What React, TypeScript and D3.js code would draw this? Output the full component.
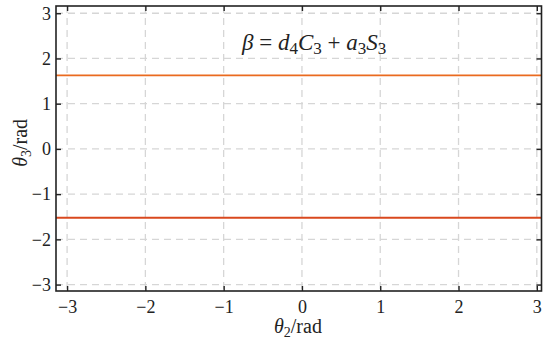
import React, { useEffect, useRef } from "react";
import * as d3 from "d3";

// theta_2 range (rad) and tick values
const xDomain: [number, number] = [-3.1416, 3.06];
const yDomain: [number, number] = [-3.1416, 3.16];
const xTicks = [-3, -2, -1, 0, 1, 2, 3];
const yTicks = [-3, -2, -1, 0, 1, 2, 3];

// the two solution branches of theta_3 (constant along theta_2)
const branchValues = [1.626, -1.522];
const branchColors = ["#EA6A1F", "#D9481E"];
const sampleX = [-3.1416, 3.06];

const WIDTH = 550;
const HEIGHT = 344;
const FONT = "'Liberation Serif', 'DejaVu Serif', serif";

const fmt = (v: number) => (v < 0 ? "\u2212" + Math.abs(v) : String(v));

const App: React.FC = () => {
  const svgRef = useRef<SVGSVGElement>(null);

  useEffect(() => {
    if (!svgRef.current) return;
    const svg = d3.select(svgRef.current);
    svg.selectAll("*").remove();

    const margin = { top: 6, right: 8.5, bottom: 53, left: 56 };
    const innerWidth = WIDTH - margin.left - margin.right;
    const innerHeight = HEIGHT - margin.top - margin.bottom;

    const g = svg.append("g")
      .attr("transform", `translate(${margin.left}, ${margin.top})`);

    const x = d3.scaleLinear().domain(xDomain).range([0, innerWidth]);
    const y = d3.scaleLinear().domain(yDomain).range([innerHeight, 0]);

    // grid
    g.append("g")
      .selectAll("line")
      .data(xTicks)
      .join("line")
      .attr("x1", d => x(d)).attr("x2", d => x(d))
      .attr("y1", 0).attr("y2", innerHeight)
      .attr("stroke", "#d6d6d6")
      .attr("stroke-width", 1.3)
      .attr("stroke-dasharray", "7,5");

    g.append("g")
      .selectAll("line")
      .data(yTicks)
      .join("line")
      .attr("y1", d => y(d)).attr("y2", d => y(d))
      .attr("x1", 0).attr("x2", innerWidth)
      .attr("stroke", "#d6d6d6")
      .attr("stroke-width", 1.3)
      .attr("stroke-dasharray", "7,5");

    // lines
    const line = d3.line<number>().x(d => x(d));
    branchValues.forEach((v, i) => {
      g.append("path")
        .datum(sampleX)
        .attr("fill", "none")
        .attr("stroke", branchColors[i])
        .attr("stroke-width", 1.8)
        .attr("d", line.y(() => y(v)));
    });

    // axes (ticks inward, mirrored on top and right)
    const tickLen = 5;
    const axisStyle = (sel: d3.Selection<SVGGElement, unknown, null, undefined>) => {
      sel.select(".domain").remove();
      sel.selectAll("line").attr("stroke", "#222").attr("stroke-width", 1.4);
      sel.selectAll("text")
        .attr("font-family", FONT)
        .attr("font-size", 18)
        .attr("fill", "#222");
    };

    g.append("g")
      .attr("transform", `translate(0, ${innerHeight})`)
      .call(d3.axisBottom(x).tickValues(xTicks).tickSize(-tickLen).tickPadding(9).tickFormat(d => fmt(+d)))
      .call(axisStyle);

    g.append("g")
      .call(d3.axisTop(x).tickValues(xTicks).tickSize(-tickLen).tickFormat(() => ""))
      .call(axisStyle);

    g.append("g")
      .call(d3.axisLeft(y).tickValues(yTicks).tickSize(-tickLen).tickPadding(5).tickFormat(d => fmt(+d)))
      .call(axisStyle);

    g.append("g")
      .attr("transform", `translate(${innerWidth}, 0)`)
      .call(d3.axisRight(y).tickValues(yTicks).tickSize(-tickLen).tickFormat(() => ""))
      .call(axisStyle);

    // frame
    g.append("rect")
      .attr("width", innerWidth)
      .attr("height", innerHeight)
      .attr("fill", "none")
      .attr("stroke", "#222")
      .attr("stroke-width", 1.6);

    // annotation
    const ann = g.append("text")
      .attr("x", 186)
      .attr("y", 44)
      .attr("font-family", FONT)
      .attr("font-size", 23)
      .attr("fill", "#222")
      .style("white-space", "pre");
    const parts: Array<[string, boolean, boolean]> = [
      ["\u03B2", true, false], [" = ", false, false], ["d", true, false], ["4", false, true],
      ["C", true, false], ["3", false, true], [" + ", false, false], ["a", true, false], ["3", false, true],
      ["S", true, false], ["3", false, true],
    ];
    let sub = false;
    parts.forEach(([t, it, s]) => {
      const ts = ann.append("tspan").text(t)
        .attr("font-style", it ? "italic" : "normal");
      if (s) ts.attr("font-size", 17).attr("dy", sub ? 0 : 4);
      else ts.attr("dy", sub ? -4 : 0);
      sub = s;
    });

    // axis labels
    const xl = svg.append("text")
      .attr("x", margin.left + x(0) - 4)
      .attr("y", 333)
      .attr("text-anchor", "middle")
      .attr("font-family", FONT)
      .attr("font-size", 20)
      .attr("fill", "#222");
    xl.append("tspan").attr("font-style", "italic").text("\u03B8");
    xl.append("tspan").attr("font-size", 14).attr("dy", 4).text("2");
    xl.append("tspan").attr("dy", -4).text("/rad");

    const yl = svg.append("text")
      .attr("transform", `translate(27, ${margin.top + y(0) - 6}) rotate(-90)`)
      .attr("text-anchor", "middle")
      .attr("font-family", FONT)
      .attr("font-size", 20)
      .attr("fill", "#222");
    yl.append("tspan").attr("font-style", "italic").text("\u03B8");
    yl.append("tspan").attr("font-size", 14).attr("dy", 4).text("3");
    yl.append("tspan").attr("dy", -4).text("/rad");
  }, []);

  return (
    <svg
      ref={svgRef}
      width={WIDTH}
      height={HEIGHT}
      style={{ position: "absolute", left: 0, top: 0, background: "#fff" }}
    />
  );
};

export default App;
